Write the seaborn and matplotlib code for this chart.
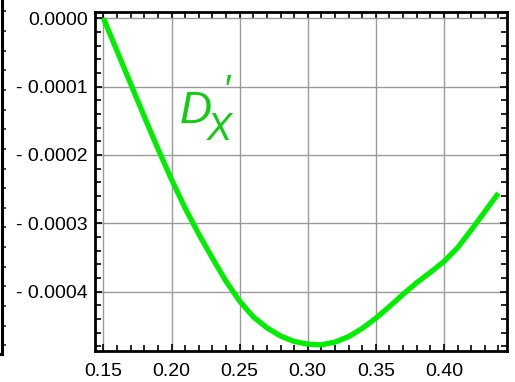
import numpy as np
import matplotlib
matplotlib.use("Agg")
import matplotlib.pyplot as plt
import seaborn as sns
from matplotlib.ticker import MultipleLocator, FixedLocator

# curve values
x_vals = [0.15, 0.16, 0.17, 0.18, 0.19, 0.20, 0.21, 0.22, 0.23, 0.24,
          0.25, 0.26, 0.27, 0.28, 0.29, 0.30, 0.31, 0.32, 0.33, 0.34,
          0.35, 0.36, 0.37, 0.38, 0.39, 0.40, 0.41, 0.42, 0.43, 0.44]
y_vals = [0.0, -0.000048, -0.000096, -0.000144, -0.000191, -0.000236,
          -0.000278, -0.000316, -0.000351, -0.000385, -0.000414, -0.000437,
          -0.000453, -0.000465, -0.000473, -0.000477, -0.000478, -0.000474,
          -0.000466, -0.000454, -0.000439, -0.000422, -0.000404, -0.000387,
          -0.000372, -0.000356, -0.000336, -0.000310, -0.000283, -0.000256]

x_ticks = [0.15, 0.20, 0.25, 0.30, 0.35, 0.40]
x_labels = ["0.15", "0.20", "0.25", "0.30", "0.35", "0.40"]
y_ticks = [0.0, -0.0001, -0.0002, -0.0003, -0.0004]
y_labels = ["0.0000", "- 0.0001", "- 0.0002", "- 0.0003", "- 0.0004"]

sns.set_style("ticks")
plt.rcParams['font.family'] = ['Liberation Sans', 'DejaVu Sans']

fig = plt.figure(figsize=(5.15, 3.82), dpi=100)

# piece of the neighbouring panel at the left edge
side = fig.add_axes([-0.5, 28 / 382, 0.5 + 2 / 515, 1.2])
side.set_xlim(0, 1)
side.set_ylim(354, 354 - 1.2 * 354)
side.set_xticks([])
side.yaxis.tick_right()
side.yaxis.set_major_locator(FixedLocator(np.arange(18.3, 354, 18.2)))
side.tick_params(axis="y", direction="out", length=3, width=1.2, labelright=False)
for s in side.spines.values():
    s.set_linewidth(2.2)
    s.set_color("black")

ax = fig.add_axes([95 / 515, 31 / 382, 412 / 515, 339 / 382])
sns.lineplot(x=x_vals, y=y_vals, ax=ax, color="#00ee00", linewidth=3.8,
             solid_capstyle="butt", solid_joinstyle="round", zorder=3)

ax.set_xlim(0.1438, 0.4463)
ax.set_ylim(-0.000487, 0.0000092)
ax.set_xticks(x_ticks)
ax.set_xticklabels(x_labels)
ax.set_yticks(y_ticks)
ax.set_yticklabels(y_labels)
ax.xaxis.set_minor_locator(MultipleLocator(0.01))
ax.yaxis.set_minor_locator(MultipleLocator(0.00002))

ax.grid(which="major", color="#9a9a9a", linewidth=1.0)
ax.set_axisbelow(True)
ax.tick_params(which="both", direction="in", top=True, right=True,
               width=1.2, labelsize=14, colors="black")
ax.tick_params(which="major", length=5)
ax.tick_params(axis="x", which="major", pad=9)
ax.tick_params(axis="y", which="major", pad=5)
ax.tick_params(which="minor", length=4)
for s in ax.spines.values():
    s.set_linewidth(2.0)
    s.set_color("black")
ax.set_xlabel("")
ax.set_ylabel("")

# curve label
ax.text(0.205, 0.672, "D", transform=ax.transAxes, fontsize=32, style="italic",
        color="#11cc11")
ax.text(0.31, 0.735, "\u2032", transform=ax.transAxes, fontsize=28, style="italic",
        color="#11cc11")
ax.text(0.272, 0.622, "X", transform=ax.transAxes, fontsize=27, style="italic",
        color="#11cc11")

fig.savefig("out.png", dpi=100)
